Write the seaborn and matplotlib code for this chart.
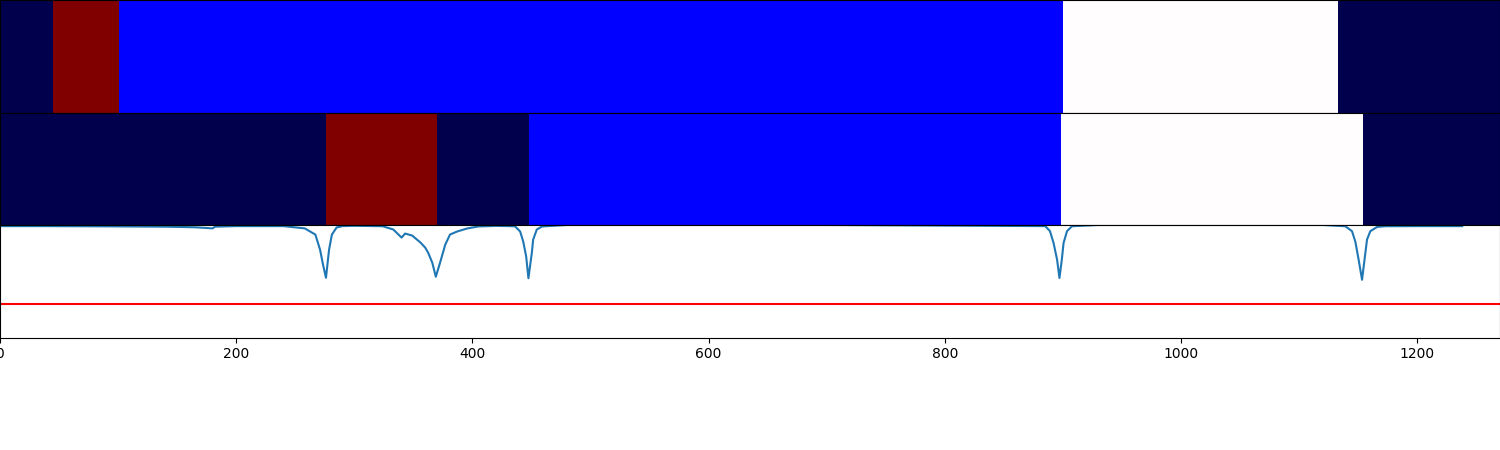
import numpy as np
import matplotlib
matplotlib.use("Agg")
import matplotlib.pyplot as plt
import seaborn as sns

n_frames = 1270

# segment boundaries (frame index) and segment labels for the two label rows
ref_bounds = [0, 45, 101, 900, 1133, 1270]
ref_labels = [0, 4, 1, 2, 0]
est_bounds = [0, 276, 370, 448, 898, 1154, 1270]
est_labels = [0, 4, 0, 1, 2, 0]

# novelty / similarity curve
frames = [0, 40, 90, 140, 165, 180, 182, 200, 240, 258, 267, 271, 273.5, 276, 278.6,
          281, 285, 290, 300, 324, 333, 340, 343, 349, 356, 360, 362.5, 366, 369,
          372.6, 377, 381, 387, 395.5, 405, 420, 436, 440.4, 443, 445.5, 447.4,
          450.3, 451.4, 454.5, 459, 480, 700, 885, 889, 892, 895, 897, 899, 900.5,
          903.4, 907.6, 930, 1120, 1139, 1144.7, 1147.5, 1150.3, 1153.2, 1156,
          1157.4, 1160.2, 1166, 1173, 1200, 1238]
score = [0.99, 0.99, 0.988, 0.985, 0.98, 0.97, 0.985, 0.99, 0.99, 0.97, 0.915, 0.78,
         0.647, 0.531, 0.78, 0.915, 0.978, 0.99, 0.993, 0.989, 0.96, 0.888, 0.924,
         0.906, 0.844, 0.799, 0.754, 0.665, 0.54, 0.665, 0.826, 0.915, 0.942, 0.969,
         0.987, 0.992, 0.989, 0.942, 0.853, 0.72, 0.527, 0.754, 0.87, 0.96, 0.987,
         1.0, 1.0, 0.99, 0.945, 0.841, 0.692, 0.529, 0.692, 0.841, 0.945, 0.989,
         1.0, 1.0, 0.989, 0.945, 0.853, 0.692, 0.513, 0.751, 0.87, 0.945, 0.983,
         0.989, 0.99, 0.99]
threshold = 0.3


def to_frames(bounds, labels):
    lengths = np.diff(bounds)
    return np.repeat(labels, lengths)[None, :]


fig, axes = plt.subplots(3, 1, figsize=(15, 4.5), dpi=100)
fig.subplots_adjust(left=0, right=1, top=1, bottom=0.25, hspace=0)

for ax, (b, l) in zip(axes[:2], [(ref_bounds, ref_labels), (est_bounds, est_labels)]):
    sns.heatmap(to_frames(b, l), ax=ax, cmap="seismic", vmin=0, vmax=4,
                cbar=False, xticklabels=False, yticklabels=False)
    for s in ax.spines.values():
        s.set_visible(True)
        s.set_color("black")
    ax.set_xlim(0, n_frames)

ax = axes[2]
sns.lineplot(x=frames, y=score, ax=ax, color="#1f77b4", linewidth=1.5)
ax.axhline(threshold, color="red", linewidth=1.5)
ax.set_xlim(0, n_frames)
ax.set_ylim(0, 1)
ax.set_xticks([0, 200, 400, 600, 800, 1000, 1200])

plt.savefig("out.png")
